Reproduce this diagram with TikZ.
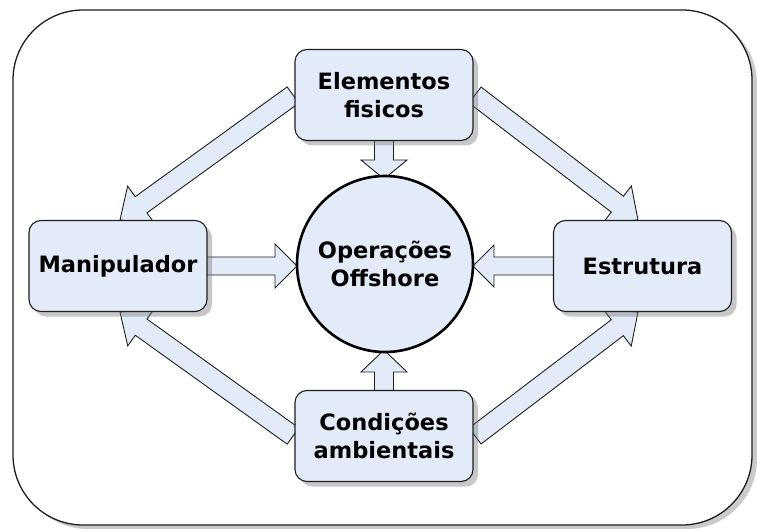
\documentclass[tikz,border=0pt]{standalone}
\usepackage{fontspec}
\setmainfont{DejaVu Sans}
\usetikzlibrary{calc,shadows}
\definecolor{boxfill}{RGB}{228,235,248}
\definecolor{lineclr}{RGB}{30,30,30}
\begin{document}
\begin{tikzpicture}[x=1pt,y=-1pt,
  outer/.style={draw=lineclr, line width=1.3pt, fill=white, rounded corners=70pt,
    drop shadow={shadow xshift=5pt, shadow yshift=-4pt, opacity=0.35, fill=black!60}},
  box/.style={draw=lineclr, line width=1.1pt, fill=boxfill, rounded corners=12pt,
    minimum width=178pt, minimum height=91pt, inner sep=0pt, align=center,
    font=\fontsize{22.5}{28}\selectfont\bfseries,
    drop shadow={shadow xshift=5pt, shadow yshift=-5pt, opacity=0.4, fill=black!55}},
  hub/.style={circle, draw=black, line width=2.6pt, fill=boxfill, minimum size=176pt,
    inner sep=0pt, align=center, font=\fontsize{22.5}{28}\selectfont\bfseries},
  blk/.style n args={3}{draw=lineclr, line width=0.9pt, fill=boxfill,
    to path={let \p1=(\tikztostart), \p2=(\tikztotarget),
      \p3=($(\p2)!#3pt!(\p1)$) in
      ($(\p1)!#1pt!90:(\p2)$) -- ($(\p3)!#1pt!90:(\p2)$) -- ($(\p3)!#2pt!90:(\p2)$)
      -- (\p2) -- ($(\p3)!#2pt!-90:(\p2)$) -- ($(\p3)!#1pt!-90:(\p2)$)
      -- ($(\p1)!#1pt!-90:(\p2)$) -- cycle}}
]
\useasboundingbox (0,0) rectangle (757,529);
\path[outer] (13,10) rectangle (752,525);

% node placeholders for positions (drawn later)
\coordinate (efc) at (384,95);
\coordinate (mac) at (118,266);
\coordinate (esc) at (642.5,266);
\coordinate (cdc) at (384,436);
\coordinate (hc) at (385,264);

% anchor points of connectors
\coordinate (efW) at (293,95);
\coordinate (efE) at (475,95);
\coordinate (efS) at (384,138);
\coordinate (cdW) at (293,436);
\coordinate (cdE) at (475,436);
\coordinate (cdN) at (384,392);
\coordinate (maN) at (120,220);
\coordinate (maS) at (120,312);
\coordinate (maE) at (206,266);
\coordinate (esN) at (638,220);
\coordinate (esS) at (638,312);
\coordinate (esW) at (555,266);
\coordinate (hN) at (384,179);
\coordinate (hS) at (384,350);
\coordinate (hW) at (297,266);
\coordinate (hE) at (473,266);

\draw[blk={10}{23}{26}] (efW) to (maN);
\draw[blk={10}{23}{26}] (efE) to (esN);
\draw[blk={10}{23}{26}] (cdW) to (maS);
\draw[blk={10}{23}{26}] (cdE) to (esS);
\draw[blk={9.5}{23}{19}] (efS) to (hN);
\draw[blk={9.5}{23}{22}] (cdN) to (hS);
\draw[blk={9}{22}{22}] (maE) to (hW);
\draw[blk={9}{21}{21}] (esW) to (hE);

\node[box] (ef) at (efc) {Elementos\\fisicos};
\node[box] (ma) at (mac) {Manipulador};
\node[box] (es) at (esc) {Estrutura};
\node[box] (cd) at (cdc) {Condições\\ambientais};
\node[hub] (h) at (hc) {Operações\\Offshore};
\end{tikzpicture}
\end{document}
